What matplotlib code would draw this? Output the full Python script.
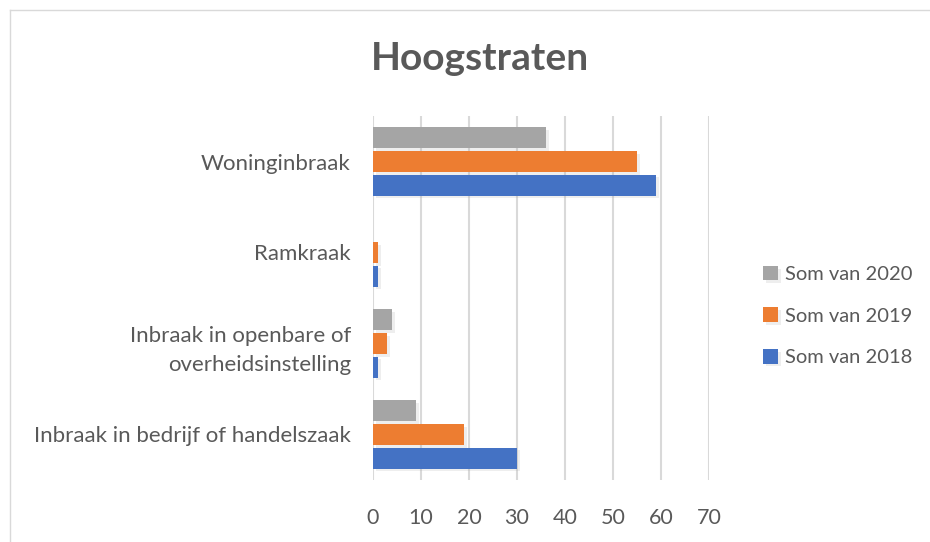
import numpy as np
import matplotlib.pyplot as plt
import matplotlib.patheffects as pe
from matplotlib.lines import Line2D

categories = ['Inbraak in bedrijf of handelszaak',
              'Inbraak in openbare of\noverheidsinstelling',
              'Ramkraak',
              'Woninginbraak']
som_2018 = [30, 1, 1, 59]
som_2019 = [19, 3, 1, 55]
som_2020 = [9, 4, 0, 36]
series = [('Som van 2018', som_2018, '#4472c4'),
          ('Som van 2019', som_2019, '#ed7d31'),
          ('Som van 2020', som_2020, '#a5a5a5')]

plt.rcParams['font.family'] = ['Lato', 'DejaVu Sans']
text_col = '#595959'

fig = plt.figure(figsize=(9.3, 5.42), dpi=100)
ax = fig.add_axes([373/930, 1-480/542, (709-373)/930, (480-116)/542])

y = np.arange(len(categories))
h = 0.26
shadow = [pe.SimplePatchShadow(offset=(2, -2), shadow_rgbFace='#aaaaaa', alpha=0.2), pe.Normal()]
for i, (name, vals, col) in enumerate(series):
    off = (i - 1) * h
    bars = ax.barh(y + off, vals, height=h - 0.03, color=col, label=name, zorder=3)
    for b in bars:
        if b.get_width() > 0:
            b.set_path_effects(shadow)

ax.set_xlim(0, 70)
ax.set_ylim(-0.5, 3.5)
ax.set_xticks(range(0, 71, 10))
ax.set_yticks(y)
ax.set_yticklabels(categories, fontsize=16, color=text_col, linespacing=1.6)
ax.tick_params(axis='x', labelsize=15.5, labelcolor=text_col, length=0, pad=20)
ax.tick_params(axis='y', length=0, pad=16)
ax.grid(axis='x', color='#d9d9d9', linewidth=1.5, zorder=0)
for s in ax.spines.values():
    s.set_visible(False)

fig.text(480/930, 1-58/542, 'Hoogstraten', ha='center', va='center',
         fontsize=28, fontweight='bold', color=text_col)

handles, labels = ax.get_legend_handles_labels()
leg = fig.legend(handles[::-1], labels[::-1], loc='center left',
                 bbox_to_anchor=(745/930, 1-316/542), frameon=False,
                 fontsize=14.5, labelcolor=text_col, handlelength=0.75,
                 handleheight=0.75, handletextpad=0.35, labelspacing=1.2)

# chart border
fig.add_artist(Line2D([10/930, 1], [1-10/542, 1-10/542], color='#d9d9d9', lw=1))
fig.add_artist(Line2D([10/930, 10/930], [0, 1-10/542], color='#d9d9d9', lw=1))

fig.savefig('out.png', dpi=100)
